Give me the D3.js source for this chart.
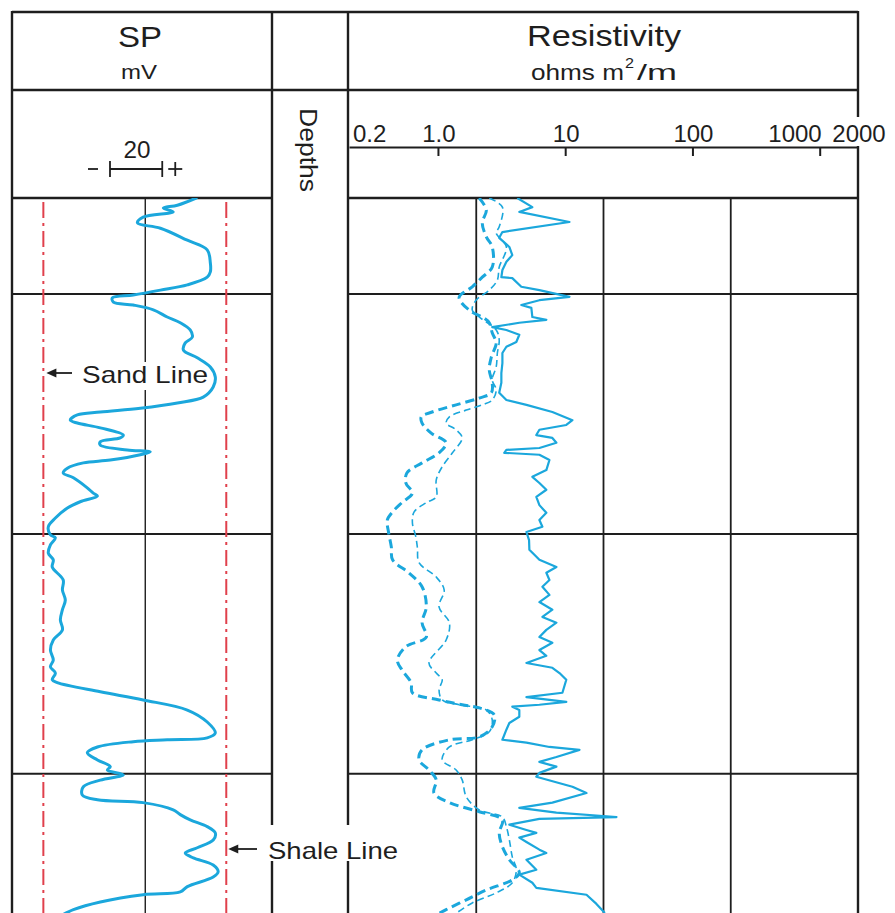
<!DOCTYPE html>
<html>
<head>
<meta charset="utf-8">
<script src="https://cdn.jsdelivr.net/npm/d3@7"></script>
<style>
  html, body { margin: 0; padding: 0; background: #fff; }
  svg { display: block; font-family: "Liberation Sans", Arial, Helvetica, sans-serif; }
</style>
</head>
<body>
<svg id="log" width="895" height="913"></svg>
<script>
// ---- depth (arbitrary well units, increasing downward) ----
const depthDomain = [0, 149];
const depthGrid = [20, 70, 120];

// ---- SP track, millivolts ----
const spDomain = [-82, 17.5];
const spGridMv = [-31];
const sandLineMv = -70;
const shaleLineMv = 0;
const spScaleBarMv = [-44.5, -24.5];   // the 20 mV reference bar
const spScaleLabel = "20";

// SP curve: [depth, mV]
const spCurve = [
  [0,-11.5],[1.5,-18.7],[2.1,-24.1],[2.9,-20.3],[4.0,-31.8],[5.2,-34.0],[6.3,-25.2],[8.8,-14.9],
  [10.8,-7.3],[13.5,-6.1],[15.4,-6.1],[16.5,-7.3],[18.1,-14.9],[19.2,-25.2],[20.2,-35.6],[20.8,-43.6],
  [21.7,-43.2],[22.3,-35.6],[23.3,-27.9],[24.8,-22.6],[26.0,-17.6],[27.5,-13.8],[29.0,-13.0],[30.2,-15.7],
  [31.7,-16.4],[33.3,-11.1],[35.2,-6.1],[37.3,-4.2],[39.4,-5.0],[41.5,-8.8],[42.7,-18.7],[43.8,-32.9],
  [44.6,-48.2],[45.2,-57.0],[46.3,-59.7],[46.9,-57.0],[47.9,-48.2],[49.4,-39.4],[50.0,-40.6],[50.8,-48.2],
  [51.5,-48.2],[52.5,-37.9],[52.9,-29.1],[53.5,-32.9],[54.6,-44.4],[55.2,-54.7],[56.3,-60.8],[57.3,-62.4],
  [58.3,-58.5],[60.4,-53.2],[61.5,-50.9],[62.1,-49.3],[63.3,-55.9],[64.6,-60.8],[66.7,-65.4],[68.5,-68.1],
  [70.2,-67.3],[70.8,-65.4],[72.3,-67.3],[74.0,-68.1],[75.4,-66.2],[76.9,-66.6],[79.6,-62.4],[81.7,-62.7],
  [83.8,-61.6],[85.8,-62.7],[87.9,-63.5],[90.0,-62.7],[92.1,-66.2],[94.2,-67.3],[96.3,-66.2],[97.7,-67.3],
  [99.0,-65.4],[100.4,-66.6],[101.0,-64.7],[102.9,-48.2],[104.6,-31.8],[106.7,-14.9],[109.2,-7.3],[111.5,-4.2],
  [112.5,-7.3],[112.9,-22.6],[113.3,-35.6],[114.4,-49.3],[115.6,-53.2],[117.1,-49.3],[118.5,-44.4],[119.2,-45.5],
  [120.2,-39.4],[121.3,-48.2],[122.7,-54.7],[124.4,-55.1],[125.4,-49.3],[126.0,-31.8],[127.5,-20.3],[128.5,-17.6],
  [129.6,-13.8],[131.0,-7.3],[132.3,-4.2],[133.8,-5.0],[135.4,-11.1],[136.5,-15.7],[137.5,-12.6],[139.0,-5.0],
  [140.4,-3.1],[141.5,-5.0],[143.5,-14.9],[144.6,-17.6],[145.2,-31.8],[146.7,-48.2],[148.3,-58.5],[149.4,-62.7]
];

// ---- Resistivity track, ohm m2/m (log scale) ----
const resDomain = [0.2, 2000];
const resTicks = [1, 10, 100, 1000];
const resLabelValues = [0.2, 1, 10, 100, 1000, 2000];
const resLabels = ["0.2", "1.0", "10", "100", "1000", "2000"];
const resGrid = [2, 20, 200];

// shallow reading (solid): [depth, ohm m]
const resShallow = [
  [0,4.2],[1.9,5.52],[2.9,4.36],[5.0,10.8],[7.1,3.21],[8.3,3.03],[10.2,3.64],[11.9,3.84],[13.3,3.45],
  [15.0,3.21],[16.5,3.15],[16.7,3.84],[18.5,4.52],[19.2,6.27],[20.6,10.8],[21.3,6.27],[22.3,4.52],[22.9,5.42],
  [24.8,5.52],[25.4,7.11],[26.0,4.36],[26.9,2.67],[27.5,3.45],[28.5,4.36],[30.0,4.13],[31.0,3.45],[32.3,3.21],
  [34.4,3.21],[36.5,3.15],[38.5,3.15],[40.6,3.03],[42.1,3.45],[43.1,4.96],[44.6,7.93],[46.3,11.4],[47.3,10.2],
  [48.3,6.27],[49.4,5.93],[50.0,7.93],[51.0,8.53],[52.1,6.27],[52.5,3.45],[53.1,3.32],[53.5,6.27],[54.6,7.52],
  [56.7,7.11],[58.1,5.52],[59.4,6.27],[60.8,7.11],[62.3,5.93],[64.0,6.27],[65.6,7.11],[67.1,6.27],[68.5,6.62],
  [69.6,4.96],[71.3,5.2],[73.3,5.23],[75.4,6.27],[76.9,8.53],[78.1,7.11],[79.6,7.52],[81.0,6.62],[82.7,7.52],
  [84.2,6.27],[85.8,7.93],[87.3,6.62],[88.5,8.53],[90.0,7.11],[91.5,6.27],[92.7,7.93],[94.2,6.27],[95.4,7.11],
  [96.9,4.96],[97.9,7.93],[99.0,9.02],[100.4,10.2],[103.1,9.51],[104.0,4.96],[105.0,10.2],[105.6,6.27],
  [106.0,3.84],[106.7,4.36],[108.1,4.36],[109.4,3.64],[110.8,3.45],[112.9,3.21],[113.5,4.96],[114.4,7.52],
  [115.0,12.95],[116.5,8.53],[117.5,6.27],[118.5,8.53],[119.8,6.27],[120.6,5.93],[122.7,11.4],[124.0,14.7],
  [126.0,7.93],[127.1,4.36],[128.1,8.53],[129.0,25.3],[129.4,6.27],[130.6,3.64],[131.7,4.96],[132.3,5.93],
  [133.3,4.36],[134.2,4.96],[135.8,6.27],[136.5,7.11],[137.9,4.96],[140.0,5.93],[141.0,4.36],[142.7,5.52],
  [143.75,5.93],[145.2,14.7],[147.1,17.6],[149.0,20.5]
];

// medium reading (thin dashes): [depth, ohm m]
const resMedium = [
  [0,2.53],[1.9,3.21],[6.0,3.03],[7.3,2.87],[10.2,3.45],[14.4,3.03],[17.1,2.93],[19.2,2.53],[21.25,2.0],
  [23.3,1.86],[24.8,2.11],[27.5,2.87],[29.6,3.03],[32.3,2.93],[35.2,2.87],[37.9,2.67],[40.0,2.87],[42.1,2.67],
  [43.1,2.23],[44.2,1.67],[45.6,1.23],[46.9,1.16],[48.3,1.39],[50.0,1.55],[53.1,1.30],[56.0,1.08],[58.75,0.97],
  [62.3,0.97],[63.5,0.81],[65.4,0.65],[67.7,0.63],[70.6,0.67],[72.9,0.69],[76.0,0.71],[79.0,0.97],[81.7,1.12],
  [85.2,1.02],[88.5,1.23],[92.1,1.16],[96.9,0.85],[99.0,0.97],[100.4,1.08],[102.5,1.02],[104.6,1.08],[105.6,1.47],
  [106.7,2.40],[108.75,2.67],[111.25,2.53],[112.9,1.86],[114.4,1.23],[117.1,1.08],[119.2,1.39],[121.25,1.55],
  [124.8,1.67],[127.5,2.11],[129.0,3.21],[131.0,3.45],[133.75,3.64],[137.3,3.84],[140.0,4.13],[142.7,3.84],
  [144.8,2.87],[146.9,1.86],[149.0,1.4]
];

// deep reading (heavy dashes): [depth, ohm m]
const resDeep = [
  [0,2.11],[2.5,2.40],[5.2,2.23],[8.1,2.40],[10.2,2.67],[14.4,2.67],[16.5,2.23],[18.5,1.86],[20.6,1.47],
  [21.7,1.52],[23.8,1.86],[24.8,2.23],[26.0,2.53],[28.1,2.67],[30.2,2.87],[33.1,2.63],[35.8,2.53],[38.5,2.67],
  [40.6,2.63],[41.7,2.11],[43.1,1.39],[44.6,0.90],[45.6,0.74],[46.9,0.75],[49.0,0.885],[51.0,1.16],[53.1,1.02],
  [55.2,0.75],[57.3,0.57],[59.4,0.56],[61.5,0.63],[63.5,0.52],[65.4,0.44],[67.1,0.40],[69.8,0.41],[72.7,0.43],
  [75.4,0.44],[78.1,0.59],[81.0,0.75],[85.2,0.81],[88.5,0.75],[91.5,0.81],[93.5,0.56],[96.25,0.48],[98.3,0.52],
  [101.0,0.615],[103.1,0.63],[104.6,1.02],[105.6,1.55],[106.25,2.11],[107.7,2.77],[110.2,2.67],[112.3,2.11],
  [112.9,1.23],[115.0,0.75],[117.1,0.71],[119.2,0.85],[121.25,0.97],[124.0,0.93],[126.0,1.23],[127.9,2.11],
  [129.6,3.21],[132.3,3.03],[135.2,3.21],[137.9,3.64],[140.6,4.36],[142.1,3.84],[144.2,2.40],[146.25,1.67],
  [148.3,1.16],[149.4,0.97]
];

// ---- layout ----
const frameTop = 12, headerMid = 90, trackTop = 198, pageBottom = 913;
const spTrack = [12, 272], depthTrack = [272, 348], resTrack = [348, 858];
const axisY = 147;

const ink = "#1e1e1e";
const cyan = "#1ba7dc";
const red = "#e0404c";

const svg = d3.select("#log");
svg.append("rect").attr("width", 895).attr("height", 913).attr("fill", "#fff");

const y = d3.scaleLinear().domain(depthDomain).range([trackTop, pageBottom]);
const xSp = d3.scaleLinear().domain(spDomain).range(spTrack);
const xRes = d3.scaleLog().domain(resDomain).range([349, 858]);

// ---- grid lines inside the tracks ----
const grid = svg.append("g").attr("stroke", ink).attr("fill", "none");

grid.selectAll(".hsp").data(depthGrid).join("line")
  .attr("class", "hsp")
  .attr("x1", spTrack[0]).attr("x2", spTrack[1])
  .attr("y1", d => y(d)).attr("y2", d => y(d)).attr("stroke-width", 2);
grid.selectAll(".hres").data(depthGrid).join("line")
  .attr("class", "hres")
  .attr("x1", resTrack[0]).attr("x2", resTrack[1])
  .attr("y1", d => y(d)).attr("y2", d => y(d)).attr("stroke-width", 2);

grid.selectAll(".vsp").data(spGridMv).join("line")
  .attr("class", "vsp")
  .attr("x1", d => xSp(d)).attr("x2", d => xSp(d))
  .attr("y1", trackTop).attr("y2", pageBottom).attr("stroke-width", 1.4);
grid.selectAll(".vres").data(resGrid).join("line")
  .attr("class", "vres")
  .attr("x1", d => xRes(d)).attr("x2", d => xRes(d))
  .attr("y1", trackTop).attr("y2", pageBottom).attr("stroke-width", 1.8);

// sand and shale base lines (red dash-dot)
grid.selectAll(".base").data([sandLineMv, shaleLineMv]).join("line")
  .attr("class", "base")
  .attr("x1", d => xSp(d)).attr("x2", d => xSp(d))
  .attr("y1", trackTop + 4).attr("y2", pageBottom)
  .attr("stroke", red).attr("stroke-width", 2)
  .attr("stroke-dasharray", "16,5,3,5");

// ---- frame ----
const frame = svg.append("g").attr("stroke", ink).attr("stroke-width", 2.4).attr("fill", "none");
[spTrack[0], spTrack[1], depthTrack[1], resTrack[1]].forEach(x => {
  frame.append("line").attr("x1", x).attr("x2", x).attr("y1", frameTop - 1).attr("y2", pageBottom);
});
frame.append("line").attr("x1", spTrack[0]).attr("x2", resTrack[1]).attr("y1", frameTop).attr("y2", frameTop);
frame.append("line").attr("x1", spTrack[0]).attr("x2", resTrack[1]).attr("y1", headerMid).attr("y2", headerMid);
frame.append("line").attr("x1", spTrack[0]).attr("x2", spTrack[1]).attr("y1", trackTop).attr("y2", trackTop);
frame.append("line").attr("x1", resTrack[0]).attr("x2", resTrack[1]).attr("y1", trackTop).attr("y2", trackTop);

// resistivity scale line with ticks
const resAxis = d3.axisBottom(xRes).tickValues(resTicks).tickSize(9).tickSizeOuter(0).tickFormat("");
const axG = svg.append("g").attr("transform", `translate(0,${axisY})`).call(resAxis);
axG.select(".domain").attr("stroke", ink).attr("stroke-width", 2.2);
axG.selectAll(".tick line").attr("stroke", ink).attr("stroke-width", 2);

// ---- white backing behind labels that sit over rules ----
const backs = svg.append("g").attr("fill", "#fff");
backs.append("rect").attr("x", 79).attr("y", 362).attr("width", 131).attr("height", 28);
backs.append("rect").attr("x", 262).attr("y", 825).attr("width", 140).attr("height", 36);
backs.append("rect").attr("x", 834).attr("y", 117).attr("width", 52).attr("height", 29);

// ---- curves ----
const defs = svg.append("defs");
defs.append("clipPath").attr("id", "clipSp").append("rect")
  .attr("x", spTrack[0]).attr("y", trackTop).attr("width", spTrack[1] - spTrack[0]).attr("height", pageBottom - trackTop);
defs.append("clipPath").attr("id", "clipRes").append("rect")
  .attr("x", resTrack[0]).attr("y", trackTop).attr("width", resTrack[1] - resTrack[0]).attr("height", pageBottom - trackTop);

const spLine = d3.line().x(d => xSp(d[1])).y(d => y(d[0])).curve(d3.curveCatmullRom.alpha(0.5));
svg.append("path").datum(spCurve).attr("clip-path", "url(#clipSp)")
  .attr("d", spLine).attr("fill", "none").attr("stroke", cyan).attr("stroke-width", 3)
  .attr("stroke-linejoin", "round").attr("stroke-linecap", "round");

const resLineSmooth = d3.line().x(d => xRes(d[1])).y(d => y(d[0])).curve(d3.curveCatmullRom.alpha(0.5));
const resLineSharp = d3.line().x(d => xRes(d[1])).y(d => y(d[0])).curve(d3.curveLinear);
const resG = svg.append("g").attr("clip-path", "url(#clipRes)").attr("fill", "none").attr("stroke", cyan)
  .attr("stroke-linejoin", "round");
resG.append("path").datum(resDeep).attr("d", resLineSmooth)
  .attr("stroke-width", 3).attr("stroke-dasharray", "9,5");
resG.append("path").datum(resMedium).attr("d", resLineSmooth)
  .attr("stroke-width", 1.6).attr("stroke-dasharray", "7,4");
resG.append("path").datum(resShallow).attr("d", resLineSharp)
  .attr("stroke-width", 2.2);

// ---- text ----
const txt = svg.append("g").attr("fill", ink);
function label(x, yy, s, size, len, anchor) {
  const t = txt.append("text").attr("x", x).attr("y", yy).attr("font-size", size)
    .attr("text-anchor", anchor || "middle").text(s);
  if (len) t.attr("textLength", len).attr("lengthAdjust", "spacingAndGlyphs");
  return t;
}

label(140, 47, "SP", 30, 44);
label(139, 79, "mV", 21, 36);
label(604, 46, "Resistivity", 30, 154);
label(531, 80, "ohms m", 22, 93, "start");
label(625, 68, "2", 15, 9, "start");
label(637, 80, "/m", 22, 40, "start");

// Depths column title, rotated
txt.append("text").attr("x", 300).attr("y", 150)
  .attr("transform", "rotate(90,300,150)")
  .attr("font-size", 23).attr("text-anchor", "middle")
  .attr("textLength", 84).attr("lengthAdjust", "spacingAndGlyphs")
  .text("Depths");

// resistivity tick labels
resLabelValues.forEach((v, i) => {
  const first = i === 0, thousand = v === 1000;
  const x = xRes(v) + (first ? 4 : thousand ? 2 : 1);
  label(x, 142, resLabels[i], 24, null, first ? "start" : thousand ? "end" : "middle");
});

// SP 20 mV reference bar
const barX0 = xSp(spScaleBarMv[0]), barX1 = xSp(spScaleBarMv[1]), barY = 169;
const bar = svg.append("g").attr("stroke", ink).attr("stroke-width", 1.8);
bar.append("line").attr("x1", barX0).attr("x2", barX1).attr("y1", barY).attr("y2", barY);
bar.append("line").attr("x1", barX0).attr("x2", barX0).attr("y1", barY - 8).attr("y2", barY + 8);
bar.append("line").attr("x1", barX1).attr("x2", barX1).attr("y1", barY - 8).attr("y2", barY + 8);
bar.append("line").attr("x1", barX0 - 22).attr("x2", barX0 - 12).attr("y1", barY).attr("y2", barY);
bar.append("line").attr("x1", barX1 + 6).attr("x2", barX1 + 20).attr("y1", barY).attr("y2", barY);
bar.append("line").attr("x1", barX1 + 13).attr("x2", barX1 + 13).attr("y1", barY - 7).attr("y2", barY + 7);
label((barX0 + barX1) / 2 + 1, 158, spScaleLabel, 23, 27);

// base line call-outs with arrows
function callout(tipX, yy, tailX, s, textX, len) {
  svg.append("line").attr("x1", tipX + 6).attr("x2", tailX).attr("y1", yy).attr("y2", yy)
    .attr("stroke", ink).attr("stroke-width", 1.8);
  svg.append("path").attr("d", `M${tipX},${yy} l10,-4.5 l0,9 z`).attr("fill", ink);
  label(textX, yy + 10, s, 24, len, "start");
}
callout(xSp(sandLineMv) + 3, 373, 72, "Sand Line", 82, 126);
callout(xSp(shaleLineMv) + 2, 849, 257, "Shale Line", 268, 130);
</script>
</body>
</html>
